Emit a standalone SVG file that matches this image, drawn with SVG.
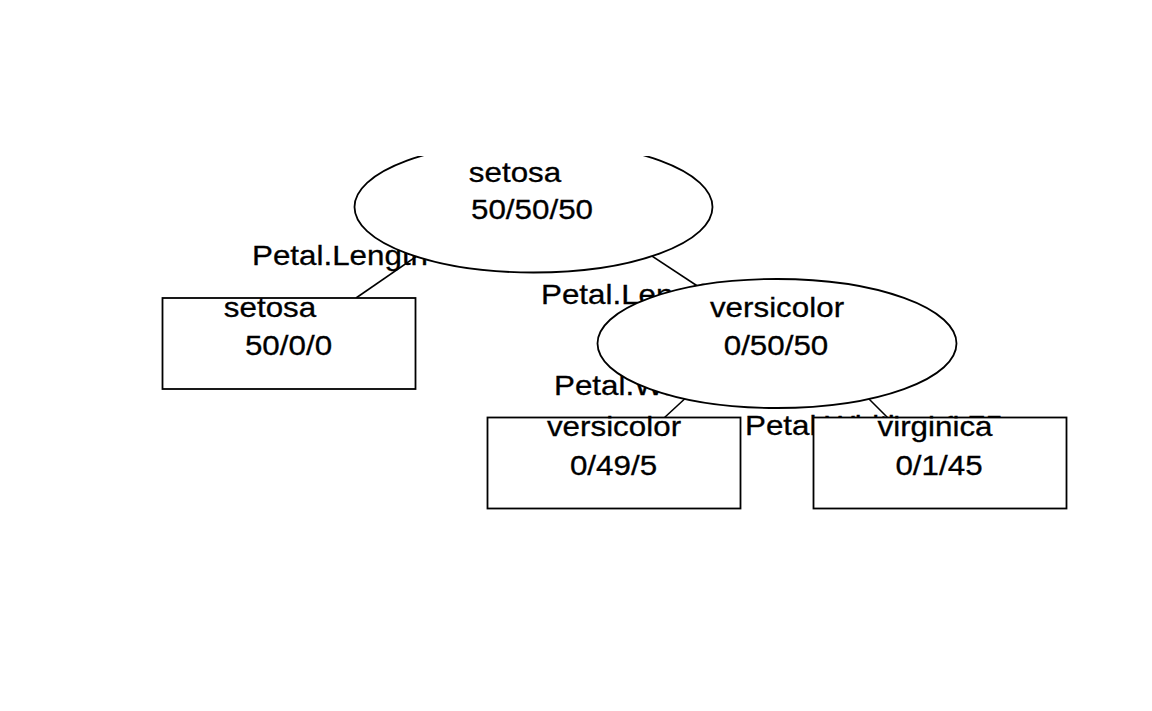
<svg xmlns="http://www.w3.org/2000/svg" width="1152" height="711" viewBox="0 0 1152 711">
<style>
.t{font-family:"Liberation Sans",Arial,sans-serif;font-size:28px;fill:#000;stroke:#000;stroke-width:0.3}
.m{text-anchor:middle}
.e{stroke:#000;stroke-width:1.6;fill:none}
.n{fill:#fff;stroke:#000;stroke-width:1.8}
</style>
<defs>
<clipPath id="plot"><rect x="0" y="156" width="1152" height="555"/></clipPath>
</defs>
<rect width="1152" height="711" fill="#fff"/>
<g clip-path="url(#plot)">
<g id="connectors">
<line class="e" x1="356" y1="298" x2="430" y2="247"/>
<line class="e" x1="620" y1="235" x2="705" y2="291"/>
<line class="e" x1="664" y1="418" x2="690" y2="394"/>
<line class="e" x1="862" y1="392" x2="888" y2="418"/>
<text class="t" transform="translate(252,265) scale(1.12,1)">Petal.Length&lt; 2.45</text>
<text class="t" transform="translate(541,304) scale(1.12,1)">Petal.Length&gt;=2.45</text>
<text class="t" transform="translate(554,395) scale(1.12,1)">Petal.Width&lt; 1.75</text>
<text class="t" transform="translate(745,435) scale(1.12,1)">Petal.Width&gt;=1.75</text>
</g>
<g id="n1">
<ellipse class="n" cx="533.5" cy="207" rx="179" ry="65.5"/>
<text class="t m" transform="translate(515,182) scale(1.12,1)">setosa</text>
<text class="t m" transform="translate(532,219) scale(1.12,1)">50/50/50</text>
</g>
<g id="n2">
<rect class="n" x="162.5" y="298" width="253" height="91"/>
<text class="t m" transform="translate(270,317) scale(1.12,1)">setosa</text>
<text class="t m" transform="translate(288.5,355) scale(1.12,1)">50/0/0</text>
</g>
<g id="n3">
<ellipse class="n" cx="777" cy="343.5" rx="179.5" ry="64.5"/>
<text class="t m" transform="translate(777,317) scale(1.12,1)">versicolor</text>
<text class="t m" transform="translate(776,355) scale(1.12,1)">0/50/50</text>
</g>
<g id="n4">
<rect class="n" x="487.5" y="417.5" width="253" height="91"/>
<text class="t m" transform="translate(614,436) scale(1.12,1)">versicolor</text>
<text class="t m" transform="translate(613.5,475) scale(1.12,1)">0/49/5</text>
</g>
<g id="n5">
<rect class="n" x="813.5" y="417.5" width="253" height="91"/>
<text class="t m" transform="translate(935,436) scale(1.12,1)">virginica</text>
<text class="t m" transform="translate(939,475) scale(1.12,1)">0/1/45</text>
</g>
</g>
</svg>
